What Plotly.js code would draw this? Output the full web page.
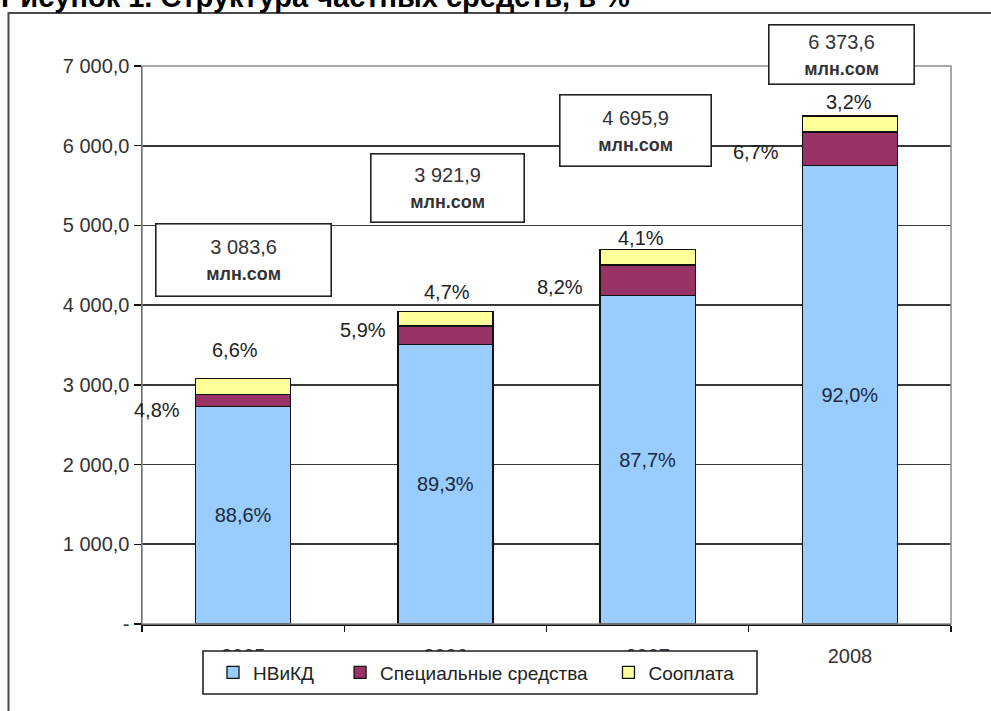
<!DOCTYPE html>
<html>
<head>
<meta charset="utf-8">
<script src="https://cdn.plot.ly/plotly-3.0.1.min.js"></script>
<style>
  html, body { margin: 0; padding: 0; background: #ffffff; }
  #chart { width: 991px; height: 711px; }
</style>
</head>
<body>
<div id="chart"></div>
<script>
// Структура частных средств по годам
const years = ['2005', '2006', '2007', '2008'];
const totals = [3083.6, 3921.9, 4695.9, 6373.6];           // млн сом
const shareNViKD = [88.6, 89.3, 87.7, 92.0];                // %
const shareSpecial = [4.8, 5.9, 8.2, 6.7];                  // %
const shareCofin = [6.6, 4.7, 4.1, 3.2];                    // %
const seriesNames = ['НВиКД', 'Специальные средства', 'Сооплата'];
const yTickVals = [0, 1000, 2000, 3000, 4000, 5000, 6000, 7000];
const yTickText = ['-', '1 000,0', '2 000,0', '3 000,0', '4 000,0', '5 000,0', '6 000,0', '7 000,0'];
const unitLabel = 'млн.сом';
const chartTitle = 'Рисунок 1. Структура частных средств, в %';

// segment heights: each year's total split by its shares
const shareSum = years.map((_, i) => shareNViKD[i] + shareSpecial[i] + shareCofin[i]);
const part = (shares) => shares.map((s, i) => totals[i] * s / shareSum[i]);
const vNViKD = part(shareNViKD);
const vSpecial = part(shareSpecial);
const vCofin = part(shareCofin);

const pct = v => v.toFixed(1).replace('.', ',') + '%';
const num = v => {
  const [a, b] = v.toFixed(1).split('.');
  return a.replace(/\B(?=(\d{3})+(?!\d))/g, ' ') + ',' + b;
};

// page geometry (pixels)
const W = 991, H = 711;
const M = { l: 142, r: 40, t: 66, b: 87 };
const PW = W - M.l - M.r, PH = H - M.t - M.b;
const px = x => (x - M.l) / PW;
const py = y => (H - M.b - y) / PH;

const FONT = 'Liberation Sans, Arial, sans-serif';
const outline = { color: '#111111', width: 1.3 };

// legend entries get a little trailing room so they spread across the box
const legendPad = ['\u00A0\u00A0\u00A0\u00A0', '\u00A0\u00A0\u00A0', ''];

const traces = [
  {
    type: 'bar', name: seriesNames[0] + legendPad[0], x: years, y: vNViKD,
    marker: { color: '#99CCFF', line: outline },
    text: shareNViKD.map(pct), textposition: 'inside', insidetextanchor: 'middle',
    textangle: 0, constraintext: 'none',
    textfont: { family: FONT, size: 20, color: '#1b2a3a' },
    hoverinfo: 'skip'
  },
  {
    type: 'bar', name: seriesNames[1] + legendPad[1], x: years, y: vSpecial,
    marker: { color: '#993366', line: outline }, textposition: 'none', hoverinfo: 'skip'
  },
  {
    type: 'bar', name: seriesNames[2] + legendPad[2], x: years, y: vCofin,
    marker: { color: '#FFFF99', line: outline }, textposition: 'none', hoverinfo: 'skip'
  }
];

// label offsets in pixels
const cofinShift = [[-8, 28], [2, 19], [-7, 12], [-1, 14]];
const specShift = [[-86, -10], [-82, 5], [-88, -7], [-94, -3]];
// total boxes: centre x, centre y, width, height (pixels)
const boxes = [[243, 260, 176, 73], [447, 188, 154, 69], [635, 130, 152, 72], [841, 54, 146, 60]];

const annotations = [];
years.forEach((yr, i) => {
  annotations.push({
    xref: 'x', yref: 'y', x: i, y: totals[i], text: pct(shareCofin[i]),
    showarrow: false, xshift: cofinShift[i][0], yshift: cofinShift[i][1],
    font: { family: FONT, size: 20, color: '#222222' }
  });
  annotations.push({
    xref: 'x', yref: 'y', x: i, y: vNViKD[i] + vSpecial[i] / 2, text: pct(shareSpecial[i]),
    showarrow: false, xshift: specShift[i][0], yshift: specShift[i][1],
    font: { family: FONT, size: 20, color: '#222222' }
  });
  const b = boxes[i];
  annotations.push({
    xref: 'paper', yref: 'paper', x: px(b[0]), y: py(b[1]),
    xanchor: 'center', yanchor: 'middle',
    width: b[2] - 2, height: b[3] - 2, borderpad: 0,
    bordercolor: '#222222', borderwidth: 1.6, bgcolor: '#ffffff',
    text: num(totals[i]) + '<br><span style="font-size:18px"><b>' + unitLabel + '</b></span>',
    showarrow: false, font: { family: FONT, size: 20, color: '#333333' }
  });
});
annotations.push({
  xref: 'paper', yref: 'paper', x: px(-1), y: py(15), xanchor: 'left', yanchor: 'bottom',
  text: '<b>' + chartTitle + '</b>', showarrow: false,
  font: { family: FONT, size: 29, color: '#000000' }
});

const shapes = [
  // outer frame
  { type: 'rect', xref: 'paper', yref: 'paper', x0: px(8.5), x1: px(1010), y0: py(13), y1: py(730),
    line: { color: '#4a4a4a', width: 2 }, fillcolor: 'rgba(0,0,0,0)', layer: 'below' },
  // plot area border
  { type: 'rect', xref: 'paper', yref: 'paper', x0: 0, x1: 1, y0: 0, y1: 1,
    line: { color: '#8c8c8c', width: 1.5 }, layer: 'above' },
  // legend box
  { type: 'rect', xref: 'paper', yref: 'paper', x0: px(203), x1: px(757), y0: py(694), y1: py(651),
    line: { color: '#222222', width: 1.6 }, fillcolor: '#ffffff', layer: 'above' }
];

const layout = {
  width: W, height: H,
  margin: M,
  paper_bgcolor: '#ffffff', plot_bgcolor: '#ffffff',
  barmode: 'stack', bargap: 0.53,
  showlegend: true,
  legend: {
    orientation: 'h', x: px(213), y: py(672.5), xanchor: 'left', yanchor: 'middle',
    bgcolor: 'rgba(0,0,0,0)', borderwidth: 0, traceorder: 'normal',
    font: { family: FONT, size: 19, color: '#222222' },
    itemwidth: 30
  },
  xaxis: {
    type: 'category', categoryorder: 'array', categoryarray: years, range: [-0.5, 3.5],
    showline: true, linecolor: '#111111', linewidth: 1.5,
    ticks: 'outside', tickson: 'boundaries', ticklen: 6, tickcolor: '#111111', tickwidth: 1.3,
    ticklabelstandoff: 13,
    showgrid: false, zeroline: false,
    tickfont: { family: FONT, size: 20, color: '#333333' }
  },
  yaxis: {
    range: [0, 7000], tickmode: 'array', tickvals: yTickVals, ticktext: yTickText,
    showline: true, linecolor: '#111111', linewidth: 1.5,
    ticks: 'outside', ticklen: 7, tickcolor: '#111111', tickwidth: 1.3,
    showgrid: true, gridcolor: '#383838', gridwidth: 1.6, zeroline: false,
    tickfont: { family: FONT, size: 20, color: '#333333' }
  },
  annotations: annotations,
  shapes: shapes
};

Plotly.newPlot('chart', traces, layout, { staticPlot: true, displayModeBar: false });
</script>
</body>
</html>
